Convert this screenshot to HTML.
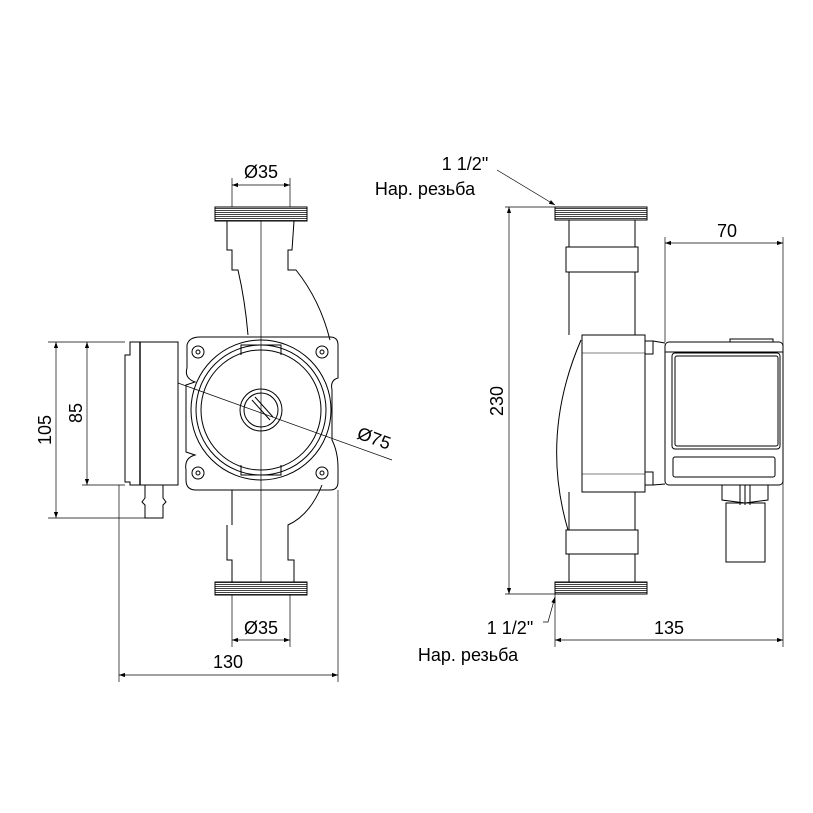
<!DOCTYPE html>
<html><head><meta charset="utf-8"><style>html,body{margin:0;padding:0;background:#fff}svg{display:block}</style></head>
<body>
<svg width="813" height="813" viewBox="0 0 813 813" xmlns="http://www.w3.org/2000/svg" font-family="Liberation Sans, sans-serif">
<defs>
<marker id="a" viewBox="0 0 10 10" refX="10" refY="5" markerWidth="11" markerHeight="6" orient="auto-start-reverse" markerUnits="userSpaceOnUse"><path d="M0,1.5 L10,5 L0,8.5z" fill="#000"/></marker>
<pattern id="th" width="4" height="2" patternUnits="userSpaceOnUse"><rect width="4" height="2" fill="#fff"/><rect width="4" height="1" fill="#444"/></pattern>
</defs>
<g fill="none" stroke="#000" stroke-width="1">
<g stroke-width="0.7">
<line x1="232" y1="178" x2="232" y2="207"/><line x1="290" y1="178" x2="290" y2="207"/>
<line x1="232" y1="185" x2="290" y2="185" marker-start="url(#a)" marker-end="url(#a)"/>
<line x1="232" y1="595" x2="232" y2="647"/><line x1="290" y1="595" x2="290" y2="647"/>
<line x1="232" y1="640" x2="290" y2="640" marker-start="url(#a)" marker-end="url(#a)"/>
<line x1="48" y1="342" x2="125" y2="342"/><line x1="48" y1="518" x2="148" y2="518"/><line x1="82" y1="485" x2="125" y2="485"/>
<line x1="56" y1="342" x2="56" y2="518" marker-start="url(#a)" marker-end="url(#a)"/>
<line x1="87" y1="342" x2="87" y2="485" marker-start="url(#a)" marker-end="url(#a)"/>
<line x1="119" y1="485" x2="119" y2="682"/><line x1="338" y1="490" x2="338" y2="682"/>
<line x1="119" y1="675" x2="338" y2="675" marker-start="url(#a)" marker-end="url(#a)"/>
<line x1="178" y1="383" x2="392" y2="460"/>
<line x1="261" y1="207" x2="261" y2="595"/>
</g>
<rect x="215" y="207" width="92" height="14" fill="url(#th)"/>
<rect x="215" y="582" width="92" height="13" fill="url(#th)"/>
<path d="M227,221 L227,250 L232,250 L232,270 L238,270 Q245,300 248,335 M294,221 L292,250 L288,250 L288,270 L296,270 Q320,300 330,340"/>
<path d="M227,525 L227,560 L232,560 L232,582 M294,582 L294,560 L288,560 L288,525 Q310,515 322,485 M232,490 L232,525"/>
<path d="M200,337 L330,337 Q338,337 338,345 L338,378 Q330,380 332,390 L332,440 Q338,452 338,468 L338,482 Q338,490 330,490 L196,490 Q186,490 186,480 L186,470 Q184,458 195,455 L186,452 L186,385 L195,382 Q184,378 187,368 L187,345 Q189,337 200,337z"/>
<circle cx="261" cy="410" r="70"/><circle cx="261" cy="410" r="65"/><circle cx="261" cy="410" r="60"/>
<path d="M241,355 L241,345 L281,345 L281,355 M241,465 L241,475 L281,475 L281,465"/>
<circle cx="261" cy="410" r="21"/><circle cx="261" cy="410" r="17"/>
<line x1="252" y1="400" x2="270" y2="420"/><line x1="255" y1="397" x2="273" y2="417"/>
<g><circle cx="198" cy="352" r="6"/><circle cx="198" cy="352" r="2"/><circle cx="322" cy="352" r="6"/><circle cx="322" cy="352" r="2"/><circle cx="198" cy="473" r="6"/><circle cx="198" cy="473" r="2"/><circle cx="322" cy="473" r="6"/><circle cx="322" cy="473" r="2"/></g>
<path d="M130,342 L178,342 L178,485 L130,485 L130,482 L125,482 L125,355 L130,355z"/>
<line x1="140" y1="342" x2="140" y2="485" stroke-width="1.4"/>
<path d="M145,485 L145,498 L142,502 L145,505 L145,518 L163,518 L163,505 L166,502 L163,498 L163,485"/>
<g stroke-width="0.7">
<line x1="505" y1="207" x2="555" y2="207"/><line x1="505" y1="594" x2="555" y2="594"/>
<line x1="509" y1="207" x2="509" y2="594" marker-start="url(#a)" marker-end="url(#a)"/>
<line x1="665" y1="237" x2="665" y2="342"/><line x1="783" y1="237" x2="783" y2="647"/>
<line x1="665" y1="243" x2="783" y2="243" marker-start="url(#a)" marker-end="url(#a)"/>
<line x1="555" y1="594" x2="555" y2="647"/>
<line x1="555" y1="640" x2="783" y2="640" marker-start="url(#a)" marker-end="url(#a)"/>
<path d="M497,170 L555,205" marker-end="url(#a)"/>
<path d="M543,622 L548,622 L555,597" marker-end="url(#a)"/>
</g>
<rect x="555" y="207" width="92" height="13" fill="url(#th)"/>
<rect x="555" y="582" width="92" height="12" fill="url(#th)"/>
<path d="M569,220 L569,247 M635,220 L635,247 M569,272 L569,335 M635,272 L635,335 M569,554 L569,582 M635,554 L635,582 M635,492 L635,530 M569,492 L569,530"/>
<rect x="566" y="247" width="72" height="25"/>
<rect x="566" y="530" width="72" height="24"/>
<path d="M581,340 Q540,435 568,530"/>
<rect x="582" y="335" width="63" height="157" fill="#fff"/>
<line x1="582" y1="353" x2="645" y2="353" stroke-width="0.5"/><line x1="582" y1="474" x2="645" y2="474" stroke-width="0.5"/>
<rect x="645" y="341" width="8" height="13"/><rect x="645" y="472" width="8" height="13"/>
<line x1="653" y1="341" x2="665" y2="343"/><line x1="653" y1="485" x2="665" y2="484"/>
<rect x="665" y="342" width="118" height="143" rx="4"/>
<rect x="730" y="339" width="43" height="3"/>
<line x1="665" y1="352" x2="783" y2="352"/>
<rect x="672" y="353" width="108" height="96" rx="3"/>
<rect x="675" y="356" width="103" height="90" rx="2"/>
<rect x="673" y="457" width="102" height="20" rx="2"/>
<path d="M722,485 L722,500 L745,503 L768,500 L768,485 M740,485 L740,505 M745,485 L745,505 M750,485 L750,505"/>
<rect x="726" y="503" width="39" height="59"/>
</g>
<g font-size="18" fill="#000">
<text x="261" y="178" text-anchor="middle">Ø35</text>
<text x="261" y="634" text-anchor="middle">Ø35</text>
<text x="228" y="668" text-anchor="middle">130</text>
<text transform="translate(51,430) rotate(-90)" text-anchor="middle">105</text>
<text transform="translate(82,413) rotate(-90)" text-anchor="middle">85</text>
<text transform="translate(372,444) rotate(20)" text-anchor="middle">Ø75</text>
<text x="727" y="237" text-anchor="middle">70</text>
<text transform="translate(503,401) rotate(-90)" text-anchor="middle">230</text>
<text x="669" y="634" text-anchor="middle">135</text>
<text x="465" y="170" text-anchor="middle">1 1/2"</text>
<text x="425" y="195" text-anchor="middle">Нар. резьба</text>
<text x="510" y="634" text-anchor="middle">1 1/2"</text>
<text x="468" y="661" text-anchor="middle">Нар. резьба</text>
</g>
</svg>
</body></html>
